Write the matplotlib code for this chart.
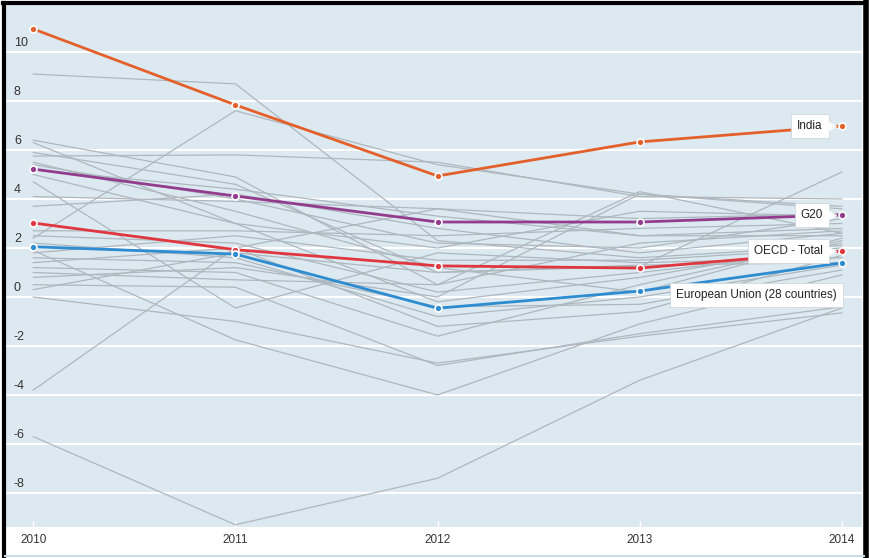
import matplotlib
matplotlib.use("Agg")
import matplotlib.pyplot as plt
import matplotlib.transforms as mtransforms
from matplotlib.lines import Line2D

years = [2010, 2011, 2012, 2013, 2014]

# highlighted series
india = [10.94, 7.84, 4.94, 6.33, 6.98]
g20 = [5.22, 4.12, 3.06, 3.06, 3.35]
oecd_total = [3.02, 1.93, 1.27, 1.18, 1.88]
eu28 = [2.05, 1.75, -0.46, 0.24, 1.39]

# other countries (grey background lines)
others = [
    [9.1, 8.7, 2.3, 1.6, 2.1],
    [2.4, 7.6, 5.4, 4.2, 3.6],
    [-5.7, -9.3, -7.4, -3.4, -0.45],
    [0.0, -1.0, -2.7, -1.6, -0.65],
    [1.9, -1.75, -4.0, -1.1, 0.9],
    [4.7, -0.45, 1.8, 1.4, 1.6],
    [-3.8, 2.0, 3.6, 2.5, 2.8],
    [5.75, 5.8, 5.5, 4.1, 4.0],
    [6.4, 4.9, 0.5, 4.3, 2.6],
    [5.9, 4.6, 1.0, 1.25, 5.1],
    [5.5, 3.5, 1.2, 0.2, 2.4],
    [5.4, 4.0, 2.2, 2.0, 3.2],
    [5.0, 3.0, -0.2, 0.8, 2.2],
    [4.1, 3.9, 3.6, 3.2, 3.4],
    [3.7, 4.2, 2.8, 1.8, 2.6],
    [2.7, 2.7, 2.5, 2.8, 3.0],
    [2.5, 2.2, 0.2, 1.0, 1.9],
    [2.2, 1.6, -0.8, 0.0, 1.3],
    [1.8, 2.5, 1.5, 1.5, 2.0],
    [1.6, 1.4, -0.4, -0.3, 1.1],
    [1.4, 2.0, -1.2, -0.6, 1.7],
    [1.2, 1.0, -1.6, 0.5, 2.3],
    [1.0, 0.7, 0.5, 2.2, 2.7],
    [0.8, 1.2, 0.0, 4.2, 3.7],
    [0.5, 0.4, -2.8, -1.5, -0.4],
    [0.3, 1.8, 1.0, 1.3, 1.4],
    [6.3, 3.0, 2.0, 3.5, 3.3],
    [5.2, 4.4, 3.3, 2.5, 2.5],
]

yticks = [-8, -6, -4, -2, 0, 2, 4, 6, 8, 10]

bg = '#dde9f1'
grey = '#adb7bd'
font = ['Liberation Sans', 'DejaVu Sans']

W, H = 869, 558
fig = plt.figure(figsize=(W / 100, H / 100), dpi=100)
fig.patch.set_facecolor('white')
ax = fig.add_axes([5 / W, 1 - 527 / H, (862 - 5) / W, (527 - 4) / H])
ax.set_facecolor(bg)
ax.set_xlim(2009.86, 2014.10)
ax.set_ylim(-9.39, 11.96)

for v in yticks:
    ax.axhline(v, color='white', lw=1.5, zorder=1)

for s in others:
    ax.plot(years, s, color=grey, lw=0.9, zorder=2)

hl = [
    (india, '#e4602a', 'India'),
    (g20, '#933c8e', 'G20'),
    (oecd_total, '#e0363f', 'OECD - Total'),
    (eu28, '#2e8cd0', 'European Union (28 countries)'),
]
for vals, col, name in hl:
    ax.plot(years, vals, color=col, lw=2.0, zorder=3,
            marker='o', ms=5, mfc=col, mec='white', mew=1.2)

# callout labels with a small pointer
shift = ax.transData + mtransforms.ScaledTranslation(-11 / 100, 0, fig.dpi_scale_trans)
for vals, col, name in hl[:3]:
    ax.annotate(name, xy=(2014, vals[-1]), xytext=(-19, 0),
                textcoords='offset pixels', ha='right', va='center',
                fontsize=8.5, family=font, color='#222222', zorder=6,
                bbox=dict(boxstyle='square,pad=0.5', fc='white', ec='#d0d8dd', lw=0.6))
    ax.plot([2014], [vals[-1]], marker='>', ms=7, color='white', transform=shift, zorder=6)

ax.annotate(hl[3][2], xy=(2014, eu28[-1]), xytext=(-5, -32),
            textcoords='offset pixels', ha='right', va='center',
            fontsize=8.5, family=font, color='#222222', zorder=6,
            bbox=dict(boxstyle='square,pad=0.5', fc='white', ec='#d0d8dd', lw=0.6))

# y tick labels drawn inside the plot above the gridlines
for v in yticks:
    ax.annotate(str(v), xy=(0, v), xycoords=('axes fraction', 'data'),
                xytext=(9, 3), textcoords='offset pixels', ha='left', va='bottom',
                fontsize=9, family=font, color='#333333', zorder=4)

ax.set_yticks([])
ax.set_xticks(years)
ax.set_xticklabels([str(y) for y in years], fontsize=8.5, family=font, color='#333333')
ax.tick_params(axis='x', length=4, width=1, color='white', direction='in', pad=5)
for sp in ax.spines.values():
    sp.set_visible(False)

# outer frame
fig.add_artist(Line2D([4 / W, 4 / W], [1 - 557 / H, 1 - 3 / H], color='black', lw=3, transform=fig.transFigure))
fig.add_artist(Line2D([3 / W, 866 / W], [1 - 3 / H, 1 - 3 / H], color='black', lw=3, transform=fig.transFigure))
fig.add_artist(Line2D([865.5 / W, 865.5 / W], [1 - 557 / H, 1 - 2 / H], color='black', lw=4, transform=fig.transFigure))
fig.add_artist(Line2D([5 / W, 864 / W], [1 - 556 / H, 1 - 556 / H], color='#c9dbe6', lw=1.5, transform=fig.transFigure))

fig.savefig('out.png', dpi=100, facecolor='white')
